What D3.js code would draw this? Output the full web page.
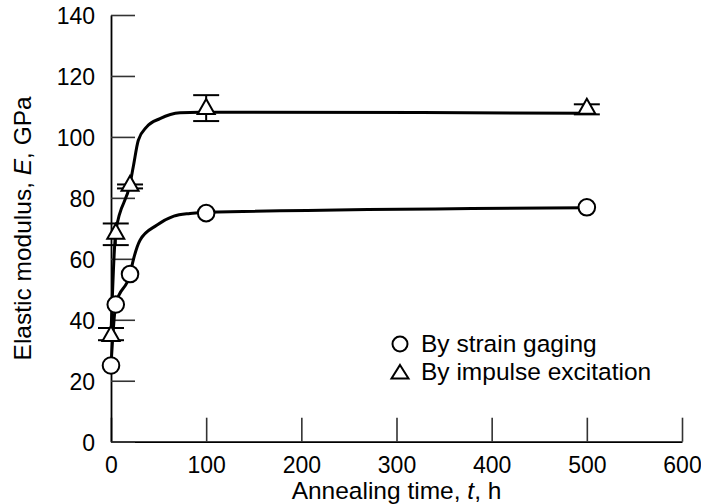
<!DOCTYPE html>
<html>
<head>
<meta charset="utf-8">
<script src="https://cdn.jsdelivr.net/npm/d3@7"></script>
<style>
  body { margin: 0; background: white; }
  svg { display: block; font-family: "Liberation Sans", Arial, Helvetica, sans-serif; }
</style>
</head>
<body>
<svg id="chart" width="701" height="504"></svg>
<script>
// Measured points
const strainT = [0, 5, 20, 100, 500];
const strainE = [25, 45, 55, 75, 76.9];
const impulseT = [0, 5, 20, 100, 500];
const impulseE = [35.3, 68.9, 84.6, 109.8, 109.9];
const impulseLow = [33.3, 64.5, 83.1, 105.2, 107.4];
const impulseHigh = [37.3, 71.6, 84.4, 113.7, 110.7];

// Fitted curves as drawn in the figure
const strainCurveT = [0, 5, 20, 23.4, 30.5, 48, 66, 83, 100, 500];
const strainCurveE = [25, 45, 55, 59.6, 66.1, 71, 74, 74.9, 75.3, 76.8];
const impulseCurveT = [0, 5, 20, 23.4, 28.7, 37.5, 51.5, 72.5, 93.5, 500];
const impulseCurveE = [35.3, 68.9, 84.6, 90.2, 98.9, 103.3, 106, 107.9, 108.1, 107.8];

const xTicks = [0, 100, 200, 300, 400, 500, 600];
const yTicks = [0, 20, 40, 60, 80, 100, 120, 140];

const legendLabels = ["By strain gaging", "By impulse excitation"];

const svg = d3.select("#chart");

const x = d3.scaleLinear().domain([0, 600]).range([111, 682]);
const y = d3.scaleLinear().domain([0, 140]).range([441.7, 15]);

// Axes
const xAxis = svg.append("g")
  .attr("transform", `translate(0,${y(0)})`)
  .call(d3.axisBottom(x).tickValues(xTicks).tickSizeInner(-24).tickSizeOuter(0).tickPadding(15));
const yAxis = svg.append("g")
  .attr("transform", `translate(${x(0)},0)`)
  .call(d3.axisLeft(y).tickValues(yTicks).tickSizeInner(-24).tickSizeOuter(0).tickPadding(16));

[xAxis, yAxis].forEach(ax => {
  ax.attr("font-size", 23).attr("font-family", null);
  ax.select(".domain").attr("stroke", "#000").attr("stroke-width", 1.8);
  ax.selectAll(".tick line").attr("stroke", "#333").attr("stroke-width", 1.6);
  ax.selectAll(".tick text").attr("fill", "#000");
});
yAxis.selectAll(".tick text").attr("dy", "0.37em");

// Axis titles
const xTitle = svg.append("text")
  .attr("x", (x(0) + x(600)) / 2)
  .attr("y", 499)
  .attr("text-anchor", "middle")
  .attr("font-size", 24.5);
xTitle.append("tspan").text("Annealing time, ");
xTitle.append("tspan").attr("font-style", "italic").text("t");
xTitle.append("tspan").text(", h");

const yTitle = svg.append("text")
  .attr("transform", "rotate(-90)")
  .attr("x", -(y(0) + y(140)) / 2)
  .attr("y", 31)
  .attr("text-anchor", "middle")
  .attr("font-size", 24.5);
yTitle.append("tspan").text("Elastic modulus, ");
yTitle.append("tspan").attr("font-style", "italic").text("E");
yTitle.append("tspan").text(", GPa");

// Curves
const line = d3.line()
  .x(d => x(d[0]))
  .y(d => y(d[1]))
  .curve(d3.curveMonotoneX);

svg.append("path")
  .datum(strainCurveT.map((t, i) => [t, strainCurveE[i]]))
  .attr("fill", "none").attr("stroke", "#000").attr("stroke-width", 3)
  .attr("d", line);

svg.append("path")
  .datum(impulseCurveT.map((t, i) => [t, impulseCurveE[i]]))
  .attr("fill", "none").attr("stroke", "#000").attr("stroke-width", 3)
  .attr("d", line);

// Error bars
const cap = 13;
impulseT.forEach((t, i) => {
  const g = svg.append("g").attr("stroke", "#000").attr("stroke-width", 2);
  g.append("line").attr("x1", x(t)).attr("x2", x(t)).attr("y1", y(impulseLow[i])).attr("y2", y(impulseHigh[i]));
  g.append("line").attr("x1", x(t) - cap).attr("x2", x(t) + cap).attr("y1", y(impulseLow[i])).attr("y2", y(impulseLow[i]));
  g.append("line").attr("x1", x(t) - cap).attr("x2", x(t) + cap).attr("y1", y(impulseHigh[i])).attr("y2", y(impulseHigh[i]));
});

// Markers
const triPath = "M0,-8L8.5,7L-8.5,7Z";

svg.selectAll("circle.strain")
  .data(strainT)
  .enter()
  .append("circle")
  .attr("class", "strain")
  .attr("cx", d => x(d))
  .attr("cy", (d, i) => y(strainE[i]))
  .attr("r", 8.3)
  .attr("fill", "white").attr("stroke", "#000").attr("stroke-width", 2);

svg.selectAll("path.impulse")
  .data(impulseT)
  .enter()
  .append("path")
  .attr("class", "impulse")
  .attr("d", triPath)
  .attr("transform", (d, i) => `translate(${x(d)},${y(impulseE[i])})`)
  .attr("fill", "white").attr("stroke", "#000").attr("stroke-width", 2);

// Legend
const legend = svg.append("g");
legend.append("circle").attr("cx", 400).attr("cy", 344).attr("r", 7.5)
  .attr("fill", "white").attr("stroke", "#000").attr("stroke-width", 2);
legend.append("path").attr("d", "M0,-7L8.5,6.5L-8.5,6.5Z").attr("transform", "translate(400,372)")
  .attr("fill", "white").attr("stroke", "#000").attr("stroke-width", 2);
legendLabels.forEach((label, i) => {
  legend.append("text")
    .attr("x", 421)
    .attr("y", 352 + i * 28)
    .attr("font-size", 24.5)
    .text(label);
});
</script>
</body>
</html>
